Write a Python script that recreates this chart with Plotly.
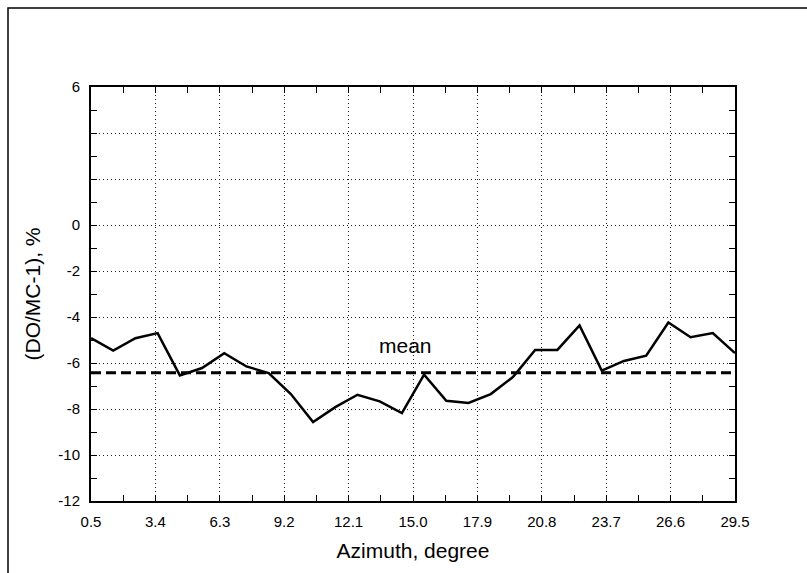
import plotly.graph_objects as go

azimuth = [0.5, 1.5, 2.5, 3.5, 4.5, 5.5, 6.5, 7.5, 8.5, 9.5,
           10.5, 11.5, 12.5, 13.5, 14.5, 15.5, 16.5, 17.5, 18.5, 19.5,
           20.5, 21.5, 22.5, 23.5, 24.5, 25.5, 26.5, 27.5, 28.5, 29.5]
deviation = [-4.92, -5.46, -4.92, -4.70, -6.54, -6.22, -5.57, -6.15, -6.44, -7.35,
             -8.57, -7.92, -7.38, -7.67, -8.18, -6.51, -7.64, -7.74, -7.35, -6.61,
             -5.43, -5.43, -4.37, -6.33, -5.91, -5.68, -4.24, -4.88, -4.70, -5.57]
mean_value = -6.42
mean_x = [0.5, 29.5]

x_tickvals = [0.5, 3.4, 6.3, 9.2, 12.1, 15.0, 17.9, 20.8, 23.7, 26.6, 29.5]
x_ticktext = ["0.5", "3.4", "6.3", "9.2", "12.1", "15.0", "17.9", "20.8", "23.7", "26.6", "29.5"]
y_tickvals = [-12, -10, -8, -6, -4, -2, 0, 2, 4, 6]
y_ticktext = ["-12", "-10", "-8", "-6", "-4", "-2", "0", "", "", "6"]

FONT = "Liberation Sans, Arial, sans-serif"

fig = go.Figure()
fig.add_trace(go.Scatter(x=mean_x, y=[mean_value, mean_value], mode="lines",
                         line=dict(color="black", width=3, dash="10px,5px"),
                         showlegend=False, hoverinfo="skip"))
fig.add_trace(go.Scatter(x=azimuth, y=deviation, mode="lines",
                         line=dict(color="black", width=2.5),
                         showlegend=False))

fig.add_annotation(x=14.66, y=-5.25, text="mean", showarrow=False,
                   font=dict(family=FONT, size=21, color="black"))

# outer frame around the figure (partly off-page like the reference)
L, T, W, H = 91, 87, 644, 414
fig.add_shape(type="rect", xref="paper", yref="paper",
              x0=(8 - L) / W, x1=(830 - L) / W,
              y0=(T + H - 620) / H, y1=(T + H - 8) / H,
              line=dict(color="black", width=1.5), layer="below")

GRID = dict(showgrid=True, gridcolor="#222", griddash="1px,3px", gridwidth=1)

fig.update_xaxes(range=[0.5, 29.5], tickvals=x_tickvals, ticktext=x_ticktext,
                 ticks="inside", ticklen=6, tickcolor="black", tickwidth=1,
                 showline=True, linecolor="black", linewidth=2, mirror="ticks",
                 zeroline=False, ticklabelstandoff=6, **GRID,
                 minor=dict(ticks="inside", ticklen=6, tickcolor="black",
                            tick0=0.5, dtick=1.45, showgrid=False),
                 tickfont=dict(family=FONT, size=15, color="black"),
                 title=dict(text="Azimuth, degree", standoff=14,
                            font=dict(family=FONT, size=21, color="black")))
fig.update_yaxes(range=[-12, 6], tickvals=y_tickvals, ticktext=y_ticktext,
                 ticks="inside", ticklen=6, tickcolor="black", tickwidth=1,
                 showline=True, linecolor="black", linewidth=2, mirror="ticks",
                 zeroline=False, **GRID,
                 minor=dict(ticks="inside", ticklen=6, tickcolor="black",
                            tick0=-12, dtick=1, showgrid=False),
                 ticklabelstandoff=6,
                 tickfont=dict(family=FONT, size=15, color="black"),
                 title=dict(text="(DO/MC-1), %", standoff=12,
                            font=dict(family=FONT, size=21, color="black")))

fig.update_layout(width=807, height=573,
                  margin=dict(l=L, r=807 - L - W, t=T, b=573 - T - H),
                  paper_bgcolor="white", plot_bgcolor="white")

fig.write_html("out.html")
